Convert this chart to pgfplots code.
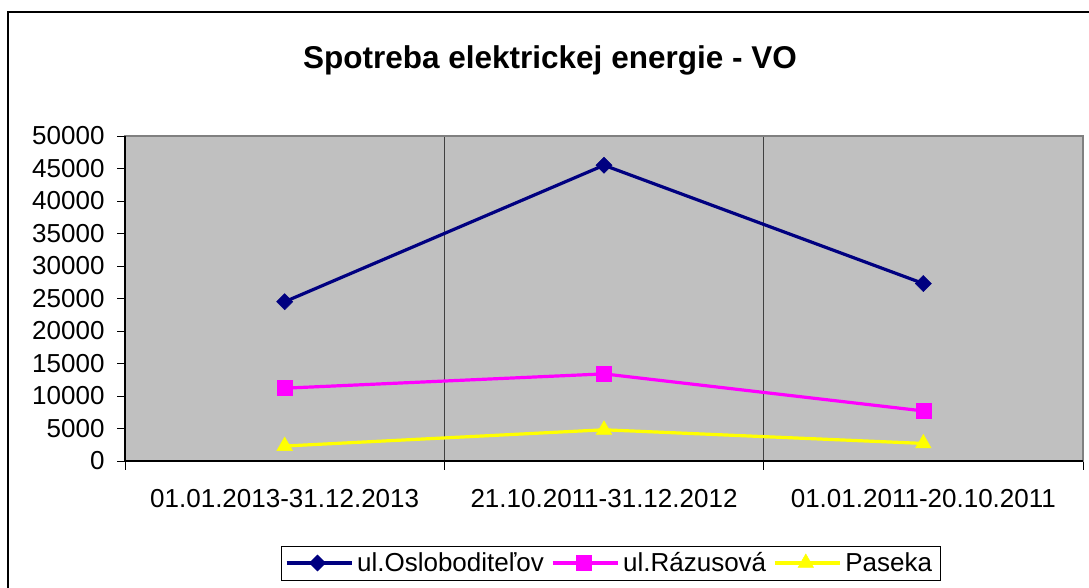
\documentclass[border=0pt]{standalone}
\usepackage{fontspec}
\setmainfont{Liberation Sans}
\usepackage{pgfplots}
\pgfplotsset{compat=1.18}
\definecolor{xlnavy}{RGB}{0,0,128}
\definecolor{xlmag}{RGB}{255,0,255}
\definecolor{xlyel}{RGB}{255,255,0}
\definecolor{xlgray}{RGB}{192,192,192}

\begin{document}
\begin{tikzpicture}[x=1bp,y=1bp]
\clip (0,0) rectangle (1089,588);
\fill[white] (0,0) rectangle (1089,588);
\draw[line width=1.5bp] (8,576) rectangle (1100,-10);
\begin{axis}[
  at={(125bp,127bp)}, anchor=south west,
  scale only axis, width=958bp, height=325bp,
  xmin=0, xmax=3, ymin=0, ymax=50000,
  axis background/.style={fill=xlgray},
  axis line style={draw=gray, line width=1.2bp},
  tick pos=left, tick align=outside,
  tick style={black, line width=0.8bp},
  xtick={0.5,1.5,2.5},
  xticklabels={01.01.2013-31.12.2013, 21.10.2011-31.12.2012, 01.01.2011-20.10.2011},
  major x tick style={draw=none},
  minor xtick={0,1,2,3},
  xminorgrids, minor x grid style={black!75, line width=1bp},
  minor tick length=9bp, major tick length=8bp,
  ytick={0,5000,...,50000},
  scaled y ticks=false,
  /pgf/number format/.cd, 1000 sep={}, assume math mode=true,
  /pgfplots/.cd,
  tick label style={font=\fontsize{26bp}{31bp}\selectfont},
  yticklabel style={xshift=-9bp},
  xticklabel style={yshift=-17bp},
  legend style={at={(0.5068,-0.3138)}, anchor=center, draw=black,
    fill=white, font=\fontsize{26bp}{31bp}\selectfont,
    inner xsep=4bp, inner ysep=3bp,
    nodes={inner xsep=4bp, inner ysep=3.5bp},
    /tikz/every even column/.append style={column sep=3bp}},
  legend columns=3,
  legend image code/.code={\path (-3bp,0bp) -- (62bp,0bp);
    \draw[mark repeat=2,mark phase=2] plot coordinates {(0bp,0bp) (28bp,0bp) (56bp,0bp)};},
]
\addplot[xlnavy, line width=3.2bp, mark=square*, mark size=5.7bp,
  mark options={rotate=45, line width=0.5bp}]
  coordinates {(0.5,24500) (1.5,45500) (2.5,27300)};
\addlegendentry{ul.Osloboditeľov}
\addplot[xlmag, line width=3.2bp, mark=square*, mark size=7.5bp,
  mark options={line width=0.5bp}]
  coordinates {(0.5,11200) (1.5,13400) (2.5,7700)};
\addlegendentry{ul.Rázusová}
\addplot[xlyel, line width=3.2bp, mark=triangle*, mark size=9bp,
  mark options={line width=0.5bp}]
  coordinates {(0.5,2300) (1.5,4800) (2.5,2700)};
\addlegendentry{Paseka}
\end{axis}
\draw[black, line width=1.2bp] (125,452) -- (125,127) -- (1083,127);
\node[font=\bfseries\fontsize{31.5bp}{38bp}\selectfont] at (550,528) {Spotreba elektrickej energie - VO};
\end{tikzpicture}
\end{document}
